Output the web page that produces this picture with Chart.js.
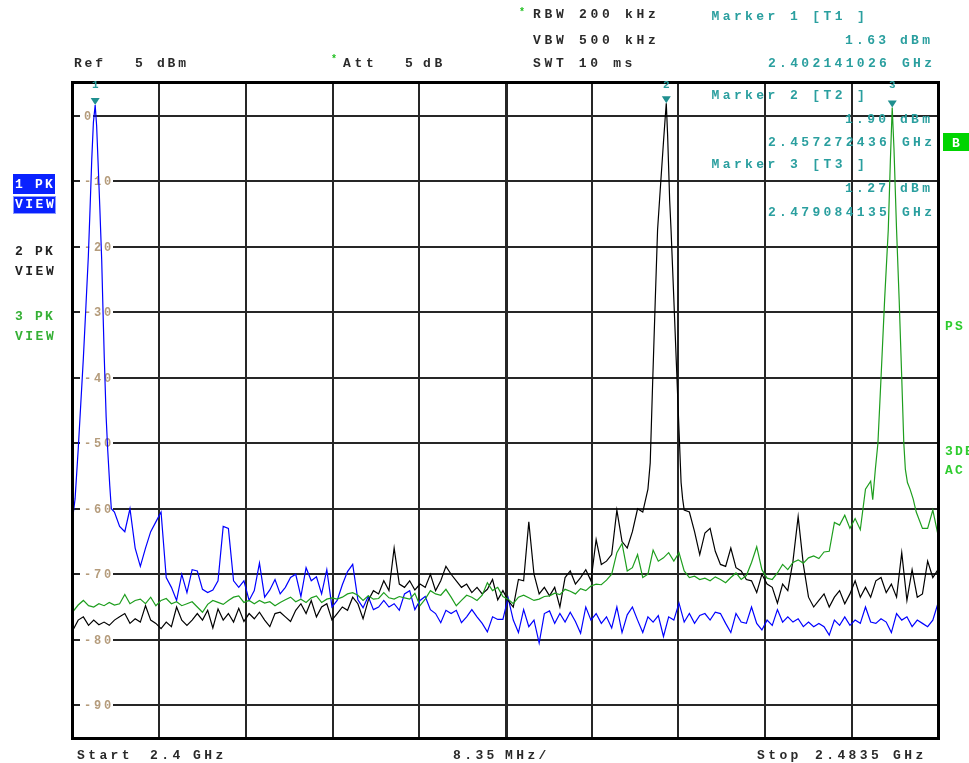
<!DOCTYPE html>
<html><head><meta charset="utf-8">
<style>html,body{margin:0;padding:0;background:#fff;overflow:hidden}canvas{display:block}</style>
<script src="https://cdn.jsdelivr.net/npm/chart.js@4.4.1/dist/chart.umd.min.js"></script>
</head><body>
<canvas id="c" width="969" height="763"></canvas>
<script>
// ---------------- DATA ----------------
const START_MHZ = 2400;
const STOP_MHZ = 2483.5;
const SPAN_DIV_MHZ = 8.35;
const STEP_MHZ = 0.5;               // spacing of the read-off noise points
const REF_DBM = 5;
const BOTTOM_DBM = -95;
const yTickValues = [0, -10, -20, -30, -40, -50, -60, -70, -80, -90];

// Trace 1 (blue) levels, dBm, every 0.5 MHz from 2400 MHz (null = inside peak window)
const trace1Dbm = [null,null,null,null,null,null,null,null,
-60.5,-62.7,-63.5,-60,-66,-68.8,-66,-63.5,-62,-60.5,-70.5,-72,-74,-70,-72.8,-69.3,-69.5,-72.3,-72.8,-72.4,-71,-62.7,
-63,-71,-72,-71,-74,-72.5,-68.3,-73.5,-72.4,-70.8,-73,-72,-70.5,-70,-73.4,-69,-71,-70.4,-73,-69.3,
-75,-74,-71.6,-69.6,-68.5,-73.9,-75.1,-73.4,-75.4,-75,-74,-75,-74.5,-75.5,-73,-72.5,-75.4,-74,-73.4,-75.4,
-76,-77.4,-75.5,-76,-75.5,-77.4,-76.5,-75.4,-76.5,-77.5,-78.8,-76.5,-76.9,-76.9,-73.6,-77,-78.9,-75.4,-78,-77,
-80.5,-76,-75.6,-77.5,-76,-77.3,-75.8,-77.2,-79,-75,-77,-76,-77.5,-76.5,-78.2,-75,-78.9,-76.2,-75,-77,
-78.9,-76.5,-77.3,-76.3,-79.5,-76.5,-77,-74.4,-77.3,-76,-77.5,-76.3,-76,-77,-75.8,-76,-77.5,-78.9,-76,-77.3,
-77.5,-75,-77.5,-78.5,-77,-77.8,-75.4,-77.3,-76.5,-77.3,-76.8,-78,-77.3,-78,-77.5,-78,-79.3,-77,-77.8,-76.5,
-77.8,-77,-77.5,-75,-77.3,-77.5,-76.8,-77.3,-78.9,-76,-77,-76.5,-78,-77,-77.5,-78,-77,-74.4];
const trace1PeakMHz = [2400.0,2400.2,2400.5,2400.75,2401.0,2401.25,2401.48,2401.65,2401.81,2401.97,2402.14,2402.28,2402.41,2402.6,2402.77,2402.9,2403.02,2403.2,2403.35,2403.55,2403.7];
const trace1PeakDbm = [-61,-58.5,-51,-44,-37,-29,-21.5,-14,-6.7,-1,1.63,-1.5,-6.7,-14.5,-22,-30,-37,-46,-51,-56.5,-60];

// Trace 2 (black)
const trace2Dbm = [
-78.5,-77,-76.5,-77.8,-77,-77.7,-77.3,-77.8,-77,-76.5,-76,-77.5,-76.8,-77.3,-74.8,-77,-77.5,-78.3,-77.3,-78,
-75,-77,-77.8,-77,-76,-77,-75.5,-78.2,-75.3,-77,-76,-77.3,-75.2,-77.2,-76,-76.8,-75.8,-77,-78,-76,
-75.8,-76.5,-77.2,-75.5,-74.5,-76,-74,-76.5,-75,-74.5,-77,-76,-75,-75.5,-73.5,-74.5,-76.8,-74,-72.5,-73,
-71,-72.5,-66,-71.5,-72,-71,-72.4,-71.5,-72,-70,-72.5,-71,-68.8,-70,-71,-72,-71.5,-72.8,-72,-73,
-72.3,-70.8,-73.9,-72.5,-74,-75,-70.8,-71,-62,-70,-73,-72,-73.3,-72,-75,-70.5,-69.5,-71.5,-70.5,-69.3,
-71,-64.7,-68.5,-68,-67,-60.2,-65,-66,-63.5,-60,-60.5,null,null,null,null,null,null,null,-60.2,-60.5,
-63.5,-67,-63.7,-63,-66.5,-68.5,-68.8,-66,-69,-69.5,-70.8,-71,-72.8,-70,-71.5,-72,-74.4,-71.5,-72.5,-68,
-61.2,-68.5,-73.5,-75,-74,-73,-75,-73.5,-72.5,-74.5,-73,-71,-73.5,-72,-73.5,-71,-70.5,-72.8,-71.5,-73.5,
-66.7,-74,-69.3,-73.5,-73,-68,-70.5,-69.3];
const trace2PeakMHz = [2455.5,2455.72,2455.95,2456.2,2456.43,2456.7,2457.0,2457.18,2457.27,2457.4,2457.6,2457.73,2458.0,2458.25,2458.5,2458.7,2458.85];
const trace2PeakDbm = [-57,-53,-41,-28.5,-17.4,-11,-4,0,1.9,-3,-13,-17.4,-28,-38,-48,-56,-58.5];

// Trace 3 (green)
const trace3Dbm = [
-75.7,-74.7,-74,-74.8,-75,-74.5,-74.8,-74.3,-74.7,-74.5,-73.1,-74.5,-74,-73.8,-74.5,-73.5,-74.8,-74,-73.7,-74.5,
-74.2,-74.8,-74.5,-74.2,-75,-75.8,-74.6,-74,-74.3,-74.6,-74,-73.5,-73.3,-74.3,-74,-74.5,-74,-74.4,-74.2,-74.8,
-74.3,-73.9,-73.5,-74.2,-73.8,-74.3,-73.6,-73.3,-74.3,-73.8,-73.6,-73.8,-73.5,-73,-72.8,-73.2,-74,-73.3,-73.8,-73.7,
-72.8,-73.6,-73.8,-73.4,-73.6,-73.8,-72.9,-74.8,-73.8,-72.5,-73,-73.2,-72.3,-73.5,-74.8,-74,-73.2,-73.5,-74,-73.2,
-71.3,-72.5,-72,-73.4,-73.8,-74.5,-73.5,-73.2,-73.6,-74,-73.8,-73.4,-73.3,-72.9,-73.1,-72.3,-72.6,-73,-72.2,-72.5,
-71.8,-71.5,-71.6,-70.9,-70,-66.7,-65.3,-69.5,-69,-67,-70.5,-70,-66.3,-68,-67.5,-66.7,-68,-66.7,-69.5,-70.5,
-70.3,-70.8,-70.6,-71,-70.4,-70.8,-71.3,-70.5,-69.8,-70.8,-70.2,-68.2,-65.8,-69.3,-70.6,-70.8,-69.8,-68.5,-69.3,-68.2,
-67.8,-68.3,-67.5,-67.2,-67.6,-66.6,-66.5,-62.1,-62.5,-61,-63,-61.5,-63.2,-57,null,null,null,null,null,null,
null,null,null,null,-63,-63,-60.2,-64];
const trace3PeakMHz = [2477.0,2477.2,2477.45,2477.7,2478.0,2478.35,2478.7,2478.9,2479.08,2479.25,2479.5,2479.75,2480.0,2480.2,2480.35,2480.55,2480.8,2481.1,2481.4];
const trace3PeakDbm = [-55.8,-58.6,-54,-50,-40,-28,-17.4,-7,1.27,-5,-17.4,-28,-40,-50,-54,-56,-57,-58.5,-60.5];

// Markers
const markerMHz = [2402.141026, 2457.272436, 2479.084135];
const markerDbm = [1.63, 1.90, 1.27];

// ---------------- BUILD ----------------
function buildTrace(levels, peakMHz, peakDbm) {
  const pts = [];
  levels.forEach((v, i) => { if (v !== null) pts.push({ x: START_MHZ + i * STEP_MHZ, y: v }); });
  peakMHz.forEach((f, k) => pts.push({ x: f, y: peakDbm[k] }));
  pts.sort((a, b) => a.x - b.x);
  return pts;
}

const FONT = 'bold 13px "Liberation Mono", "DejaVu Sans Mono", monospace';
const TEAL = '#2a9f9f';
const DARK = '#2a2a2a';
const BRIGHT_GREEN = '#2ecc2e';

function txt(ctx, s, x, y, color, pitch, font) {
  ctx.font = font || FONT;
  ctx.fillStyle = color;
  ctx.textAlign = 'left';
  ctx.textBaseline = 'alphabetic';
  for (let i = 0; i < s.length; i++) ctx.fillText(s[i], x + i * (pitch || 11.1), y);
}

const spectrumPlugin = {
  id: 'spectrum',
  beforeDraw(chart) {
    const ctx = chart.ctx;
    ctx.save();
    ctx.fillStyle = '#fff';
    ctx.fillRect(0, 0, chart.width, chart.height);
    ctx.restore();
  },
  beforeDatasetsDraw(chart) {
    const { ctx, chartArea: a, scales: { x, y } } = chart;
    ctx.save();
    ctx.strokeStyle = '#262626';
    for (let k = 1; k < 10; k++) {
      const px = Math.round(x.getPixelForValue(START_MHZ + k * SPAN_DIV_MHZ));
      ctx.lineWidth = k === 5 ? 3 : 2;
      const off = k === 5 ? 0.5 : 0;
      ctx.beginPath(); ctx.moveTo(px + off, a.top); ctx.lineTo(px + off, a.bottom); ctx.stroke();
    }
    yTickValues.forEach(v => {
      const py = Math.round(y.getPixelForValue(v));
      ctx.lineWidth = 2;
      ctx.beginPath(); ctx.moveTo(a.left, py); ctx.lineTo(a.right, py); ctx.stroke();
      const lab = String(v);
      ctx.fillStyle = '#fff';
      ctx.fillRect(80, py - 6, lab.length * 10 + 3, 12);
      txt(ctx, lab, 84, py + 4, '#b59c7c', 10, 'bold 12px "Liberation Mono", monospace');
    });
    const rows = [[20, 44, 67], [99, 123, 146], [168, 192, 216]];
    markerMHz.forEach((f, k) => {
      const r = rows[k];
      txt(ctx, 'Marker ' + (k + 1) + ' [T' + (k + 1) + ' ]', 711.5, r[0], TEAL, 11.2);
      txt(ctx, markerDbm[k].toFixed(2), 845, r[1], TEAL, 11.1);
      txt(ctx, 'dBm', 900, r[1], TEAL, 11.1);
      txt(ctx, (f / 1000).toFixed(9), 768, r[2], TEAL, 11.1);
      txt(ctx, 'GHz', 902, r[2], TEAL, 11.1);
    });
    ctx.restore();
  },
  afterDatasetsDraw(chart) {
    const { ctx, chartArea: a, scales: { x, y } } = chart;
    ctx.save();
    ctx.strokeStyle = '#000';
    ctx.lineWidth = 3;
    ctx.strokeRect(a.left - 0.5, a.top - 0.5, a.right - a.left + 1, a.bottom - a.top + 1);
    markerMHz.forEach((f, k) => {
      const px = x.getPixelForValue(f);
      const py = y.getPixelForValue(markerDbm[k]);
      ctx.fillStyle = '#1f8f8f';
      ctx.beginPath();
      ctx.moveTo(px - 4.5, py - 7); ctx.lineTo(px + 4.5, py - 7); ctx.lineTo(px, py); ctx.closePath();
      ctx.fill();
      ctx.font = 'bold 11px "Liberation Mono", monospace';
      ctx.fillStyle = TEAL;
      ctx.textAlign = 'center';
      ctx.fillText(String(k + 1), px, 88);
    });
    ctx.restore();
  },
  afterDraw(chart) {
    const ctx = chart.ctx;
    ctx.save();
    txt(ctx, 'Ref', 74, 67, DARK, 10.6);
    txt(ctx, String(REF_DBM), 135, 67, DARK);
    txt(ctx, 'dBm', 157, 67, DARK, 10.6);
    txt(ctx, '*', 331, 62, '#22c022', 8, 'bold 10px "Liberation Mono", monospace');
    txt(ctx, 'Att', 343, 67, DARK, 11.5);
    txt(ctx, '5', 405, 67, DARK);
    txt(ctx, 'dB', 423, 67, DARK, 11.5);
    txt(ctx, '*', 519, 15, '#22c022', 8, 'bold 10px "Liberation Mono", monospace');
    txt(ctx, 'RBW 200 kHz', 533, 18, DARK, 11.5);
    txt(ctx, 'VBW 500 kHz', 533, 44, DARK, 11.5);
    txt(ctx, 'SWT 10 ms', 533, 67, DARK, 11.45);
    ctx.fillStyle = '#0a22ff';
    ctx.fillRect(13, 174, 42, 20);
    ctx.fillRect(13, 196, 43, 18);
    ctx.strokeStyle = '#8e9cff'; ctx.lineWidth = 1;
    ctx.strokeRect(13.5, 196.5, 42, 17);
    txt(ctx, '1 PK', 15, 188, '#fff', 10);
    txt(ctx, 'VIEW', 15, 208, '#fff', 10.3);
    txt(ctx, '2 PK', 15, 255, '#222', 10);
    txt(ctx, 'VIEW', 15, 275, '#222', 10.3);
    txt(ctx, '3 PK', 15, 320, '#35b035', 10);
    txt(ctx, 'VIEW', 15, 340, '#35b035', 10.3);
    ctx.fillStyle = '#00d400';
    ctx.fillRect(943, 133, 26, 18);
    txt(ctx, 'B', 952, 147, '#fff', 10);
    txt(ctx, 'PS', 945, 330, BRIGHT_GREEN, 10);
    txt(ctx, '3DB', 945, 455, BRIGHT_GREEN, 10);
    txt(ctx, 'AC', 945, 474, BRIGHT_GREEN, 10);
    txt(ctx, 'Start', 77, 759, DARK, 11.2);
    txt(ctx, String(START_MHZ / 1000), 150, 759, DARK, 11.2);
    txt(ctx, 'GHz', 193, 759, DARK, 11.2);
    txt(ctx, SPAN_DIV_MHZ.toFixed(2), 453, 759, DARK, 11.2);
    txt(ctx, 'MHz/', 505, 759, DARK, 11.2);
    txt(ctx, 'Stop', 757, 759, DARK, 11.2);
    txt(ctx, String(STOP_MHZ / 1000), 815, 759, DARK, 11.2);
    txt(ctx, 'GHz', 893, 759, DARK, 11.2);
    ctx.restore();
  }
};

const lineDs = (data, color) => ({
  data, borderColor: color, backgroundColor: color, borderWidth: 1.2,
  pointRadius: 0, pointHoverRadius: 0, fill: false, tension: 0
});

new Chart(document.getElementById('c'), {
  type: 'line',
  data: {
    datasets: [
      lineDs(buildTrace(trace3Dbm, trace3PeakMHz, trace3PeakDbm), '#1e9e1e'),
      lineDs(buildTrace(trace2Dbm, trace2PeakMHz, trace2PeakDbm), '#000000'),
      lineDs(buildTrace(trace1Dbm, trace1PeakMHz, trace1PeakDbm), '#0000ff')
    ]
  },
  options: {
    responsive: false,
    animation: false,
    devicePixelRatio: 1,
    layout: { padding: { left: 73, top: 83, right: 31, bottom: 25 } },
    scales: {
      x: { type: 'linear', min: START_MHZ, max: STOP_MHZ, display: false },
      y: { type: 'linear', min: BOTTOM_DBM, max: REF_DBM, display: false }
    },
    plugins: { legend: { display: false }, tooltip: { enabled: false } },
    events: []
  },
  plugins: [spectrumPlugin]
});
</script>
</body></html>
